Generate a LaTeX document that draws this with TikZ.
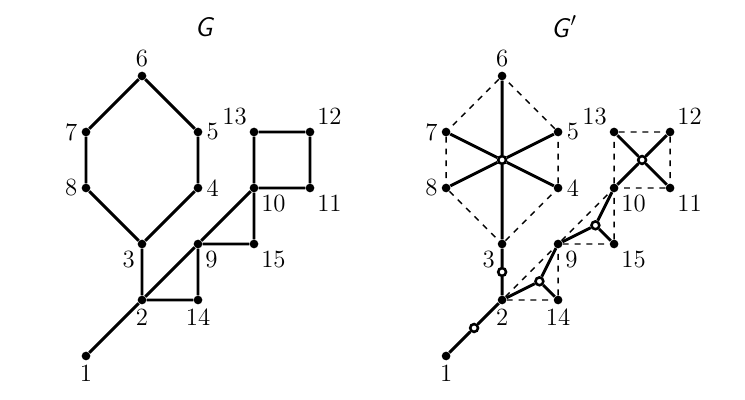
\documentclass[tikz,border=0pt]{standalone}
\begin{document}
\begin{tikzpicture}[
  vtx/.style={circle, fill=black, inner sep=0pt, minimum size=0.155cm},
  wht/.style={circle, draw=black, fill=white, line width=1.3pt, inner sep=0pt, minimum size=0.14cm},
  edg/.style={line width=1.5pt},
  dsh/.style={dashed, line width=0.7pt},
  every label/.style={font=\fontsize{12.6}{15}\selectfont, inner sep=1.8pt},
  ttl/.style={font=\fontsize{13.7}{16}\selectfont, inner sep=0pt}
]
\useasboundingbox (-1.536,-0.786) rectangle (11.768,6.357);

% ---------- G ----------
\node[ttl] (tG) at (2.116,5.88) {\textsf{\textit{G}}};
\node[vtx,label=below:1] (a1) at (0,0) {};
\node[vtx,label=below:2] (a2) at (1,1) {};
\node[vtx,label=below left:3] (a3) at (1,2) {};
\node[vtx,label=right:4] (a4) at (2,3) {};
\node[vtx,label=right:5] (a5) at (2,4) {};
\node[vtx,label=above:6] (a6) at (1,5) {};
\node[vtx,label=left:7] (a7) at (0,4) {};
\node[vtx,label=left:8] (a8) at (0,3) {};
\node[vtx,label=below right:9] (a9) at (2,2) {};
\node[vtx,label=below right:10] (a10) at (3,3) {};
\node[vtx,label=below right:11] (a11) at (4,3) {};
\node[vtx,label=above right:12] (a12) at (4,4) {};
\node[vtx,label=above left:13] (a13) at (3,4) {};
\node[vtx,label=below:14] (a14) at (2,1) {};
\node[vtx,label=below right:15] (a15) at (3,2) {};
\draw[edg] (a6)--(a7) (a7)--(a8) (a8)--(a3) (a3)--(a4) (a4)--(a5) (a5)--(a6)
  (a3)--(a2) (a1)--(a2) (a2)--(a9) (a9)--(a10) (a2)--(a14) (a14)--(a9)
  (a9)--(a15) (a15)--(a10) (a10)--(a13) (a13)--(a12) (a12)--(a11) (a11)--(a10);

% ---------- G' ----------
\begin{scope}[xshift=6.43cm]
\node[ttl] (tH) at (2.05,5.88) {\textsf{\textit{G}}\rlap{$'$}};
\node[vtx,label=below:1] (b1) at (0,0) {};
\node[vtx,label=below:2] (b2) at (1,1) {};
\node[vtx,label=below left:3] (b3) at (1,2) {};
\node[vtx,label=right:4] (b4) at (2,3) {};
\node[vtx,label=right:5] (b5) at (2,4) {};
\node[vtx,label=above:6] (b6) at (1,5) {};
\node[vtx,label=left:7] (b7) at (0,4) {};
\node[vtx,label=left:8] (b8) at (0,3) {};
\node[vtx,label=below right:9] (b9) at (2,2) {};
\node[vtx,label=below right:10] (b10) at (3,3) {};
\node[vtx,label=below right:11] (b11) at (4,3) {};
\node[vtx,label=above right:12] (b12) at (4,4) {};
\node[vtx,label=above left:13] (b13) at (3,4) {};
\node[vtx,label=below:14] (b14) at (2,1) {};
\node[vtx,label=below right:15] (b15) at (3,2) {};
\node[wht] (w1) at (0.5,0.5) {};
\node[wht] (w2) at (1,1.5) {};
\node[wht] (c1) at (1,3.5) {};
\node[wht] (t1) at (5/3,4/3) {};
\node[wht] (t2) at (8/3,7/3) {};
\node[wht] (c2) at (3.5,3.5) {};
\draw[dsh] (b6)--(b7) (b7)--(b8) (b8)--(b3) (b3)--(b4) (b4)--(b5) (b5)--(b6)
  (b2)--(b9) (b9)--(b10) (b2)--(b14) (b14)--(b9) (b9)--(b15) (b15)--(b10)
  (b10)--(b13) (b13)--(b12) (b12)--(b11) (b11)--(b10);
\draw[edg] (b1)--(w1) (w1)--(b2) (b2)--(w2) (w2)--(b3)
  (c1)--(b3) (c1)--(b4) (c1)--(b5) (c1)--(b6) (c1)--(b7) (c1)--(b8)
  (t1)--(b2) (t1)--(b9) (t1)--(b14)
  (t2)--(b9) (t2)--(b10) (t2)--(b15)
  (c2)--(b10) (c2)--(b11) (c2)--(b12) (c2)--(b13);
\end{scope}
\end{tikzpicture}
\end{document}
